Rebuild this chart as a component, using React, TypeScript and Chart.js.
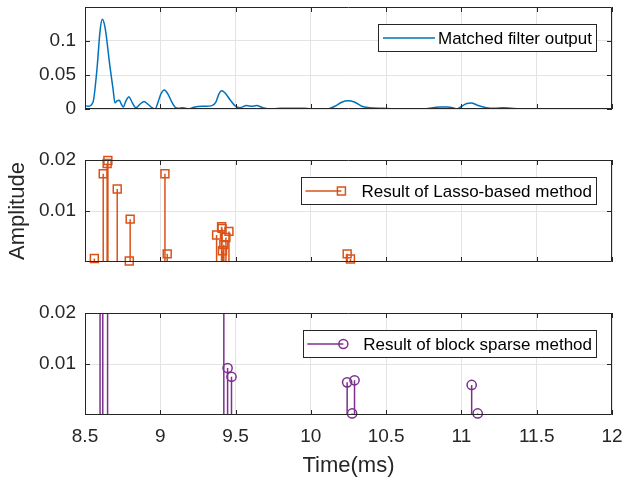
import React, { useEffect, useRef } from 'react';
import { Chart, registerables } from 'chart.js';
Chart.register(...registerables);

// ---------- data ----------
const timeTicks = [8.5, 9, 9.5, 10, 10.5, 11, 11.5, 12];
const topYTicks = [0, 0.05, 0.1];
const stemYTicks = [0.01, 0.02];

const mfTime = [
  8.5, 8.52, 8.553, 8.58, 8.6, 8.615, 8.633, 8.666, 8.686, 8.699, 8.712, 8.728, 8.739, 8.754,
  8.772, 8.792, 8.812, 8.838, 8.865, 8.892, 8.918, 8.945, 8.965, 8.985, 9.004, 9.026, 9.051,
  9.077, 9.097, 9.119, 9.15, 9.185, 9.23, 9.296, 9.343, 9.369, 9.389, 9.407, 9.429, 9.462,
  9.495, 9.529, 9.573, 9.608, 9.639, 9.681, 9.728, 9.794, 9.88, 9.96, 10.026, 10.104, 10.159,
  10.205, 10.247, 10.292, 10.338, 10.391, 10.477, 10.59, 10.743, 10.856, 10.902, 10.942,
  10.966, 11.002, 11.035, 11.066, 11.101, 11.166, 11.22, 11.276, 11.333, 11.431, 11.605, 12,
];
const mfAmp = [
  0.005, 0.004, 0.01, 0.06, 0.115, 0.132, 0.12, 0.062, 0.03, 0.009, 0.012, 0.013, 0.008, 0.003,
  0.012, 0.018, 0.01, 0.002, 0.007, 0.011, 0.007, 0.002, 0.0, 0.01, 0.022, 0.028, 0.022,
  0.01, 0.003, 0.001, 0.002, 0.0, 0.003, 0.004, 0.005, 0.01, 0.022, 0.027, 0.024, 0.014,
  0.005, 0.002, 0.005, 0.004, 0.005, 0.002, 0.0, 0.001, 0.001, 0.001, 0.0, 0.0, 0.004,
  0.01, 0.012, 0.01, 0.004, 0.002, 0.001, 0.0, 0.0, 0.003, 0.003, 0.002,
  0.0, 0.004, 0.008, 0.009, 0.006, 0.002, 0.001, 0.002, 0.001, 0.0, 0.0, 0.0,
];

const lassoTime = [
  8.562, 8.621, 8.647, 8.652, 8.714, 8.794, 8.8, 9.031, 9.046, 9.374, 9.407, 9.41, 9.413,
  9.422, 9.436, 9.456, 10.241, 10.263,
];
const lassoAmp = [
  0.0007, 0.0173, 0.0193, 0.0199, 0.0143, 0.0002, 0.0084, 0.0173, 0.0016, 0.0053, 0.0069,
  0.0066, 0.0022, 0.0034, 0.0048, 0.006, 0.0016, 0.0006,
];

const blockTime = [8.6, 8.618, 8.65, 9.422, 9.447, 9.473, 10.241, 10.274, 10.29, 11.068, 11.108];
const blockAmp = [0.06, 0.08, 0.05, 0.03, 0.0092, 0.0075, 0.0064, 0.0003, 0.0068, 0.0059, 0.0003];

// ---------- styles ----------
const FONT = '"Liberation Sans", Arial, Helvetica, sans-serif';
const AX = '#262626';
const GRID = '#e3e3e3';
const BLUE = '#0072BD';
const ORANGE = '#D95319';
const PURPLE = '#7E2F8E';

function stemData(ts: number[], vs: number[]) {
  const out: any[] = [];
  ts.forEach((t, i) => {
    out.push({ x: t, y: 0, base: true });
    out.push({ x: t, y: vs[i] });
    out.push({ x: t, y: null });
  });
  return out;
}

function zeroPad(s: any) {
  s.paddingTop = 0;
  s.paddingBottom = 0;
  s.paddingLeft = 0;
  s.paddingRight = 0;
}

const boxPlugin = {
  id: 'mlBox',
  afterDatasetsDraw(chart: any) {
    const { ctx, chartArea: a, scales } = chart;
    const x = scales.x;
    const y = scales.y;
    ctx.save();
    ctx.strokeStyle = AX;
    ctx.lineWidth = 1;
    ctx.beginPath();
    ctx.rect(Math.round(a.left) + 0.5, Math.round(a.top) + 0.5, Math.round(a.right - a.left) - 1, Math.round(a.bottom - a.top) - 1);
    ctx.stroke();
    const tl = 5;
    ctx.beginPath();
    x.ticks.forEach((t: any) => {
      const px = Math.round(x.getPixelForValue(t.value)) + 0.5;
      ctx.moveTo(px, a.bottom);
      ctx.lineTo(px, a.bottom - tl);
      ctx.moveTo(px, a.top);
      ctx.lineTo(px, a.top + tl);
    });
    y.ticks.forEach((t: any) => {
      const py = Math.round(y.getPixelForValue(t.value)) + 0.5;
      ctx.moveTo(a.left, py);
      ctx.lineTo(a.left + tl, py);
      ctx.moveTo(a.right, py);
      ctx.lineTo(a.right - tl, py);
    });
    ctx.stroke();
    ctx.restore();
  },
};

const legendPlugin = {
  id: 'mlLegend',
  afterDraw(chart: any, _args: any, opts: any) {
    if (!opts || !opts.text) return;
    const { ctx, chartArea: a } = chart;
    ctx.save();
    ctx.font = `17px ${FONT}`;
    const tw = ctx.measureText(opts.text).width;
    const right = a.right - 16;
    const top = a.top + 17;
    const h = 27;
    const textLeft = right - 4 - tw;
    const left = textLeft - 60;
    ctx.fillStyle = '#fff';
    ctx.fillRect(left, top, right - left, h);
    ctx.strokeStyle = AX;
    ctx.lineWidth = 1;
    ctx.strokeRect(Math.round(left) + 0.5, Math.round(top) + 0.5, Math.round(right - left), h);
    const cy = top + h / 2 + 0.5;
    ctx.strokeStyle = opts.color;
    ctx.lineWidth = 1.5;
    ctx.beginPath();
    if (!opts.marker) {
      ctx.moveTo(left + 5, cy);
      ctx.lineTo(textLeft - 3, cy);
      ctx.stroke();
    } else {
      const mx = textLeft - 20;
      ctx.moveTo(left + 4, cy);
      ctx.lineTo(mx, cy);
      ctx.stroke();
      ctx.beginPath();
      if (opts.marker === 'rect') {
        ctx.rect(mx - 4, cy - 4, 8, 8);
      } else {
        ctx.arc(mx, cy, 4.5, 0, Math.PI * 2);
      }
      ctx.stroke();
    }
    ctx.fillStyle = '#000';
    ctx.textBaseline = 'middle';
    ctx.textAlign = 'left';
    ctx.fillText(opts.text, textLeft, cy + 1);
    ctx.restore();
  },
};

function makeOptions(cfg: any) {
  return {
    responsive: false,
    animation: false,
    events: [],
    layout: { padding: { top: cfg.padTop, right: 11, left: 0, bottom: 0 } },
    plugins: {
      legend: { display: false },
      tooltip: { enabled: false },
      mlLegend: cfg.legend,
    },
    scales: {
      x: {
        type: 'linear',
        min: 8.5,
        max: 12,
        afterBuildTicks: (s: any) => {
          s.ticks = timeTicks.map((v) => ({ value: v }));
        },
        afterFit: (s: any) => {
          s.height = cfg.xHeight;
          zeroPad(s);
        },
        grid: { color: GRID, lineWidth: 1, drawTicks: false },
        border: { display: false },
        ticks: {
          display: cfg.showX,
          padding: 10,
          color: AX,
          font: { family: FONT, size: 19 },
          maxRotation: 0,
          callback: (v: any) => String(v),
        },
        title: {
          display: cfg.showX,
          text: 'Time(ms)',
          color: AX,
          font: { family: FONT, size: 22 },
          padding: { top: 0, bottom: 4 },
        },
      },
      y: {
        type: 'linear',
        min: 0,
        max: cfg.yMax,
        afterBuildTicks: (s: any) => {
          s.ticks = cfg.yTicks.map((v: number) => ({ value: v }));
        },
        afterFit: (s: any) => {
          s.width = 85;
          zeroPad(s);
        },
        grid: { color: GRID, lineWidth: 1, drawTicks: false },
        border: { display: false },
        ticks: {
          padding: 9,
          color: AX,
          font: { family: FONT, size: 19 },
          callback: (v: any) => String(v),
        },
        title: {
          display: !!cfg.yTitle,
          text: 'Amplitude',
          color: AX,
          font: { family: FONT, size: 22 },
          padding: { top: 5, bottom: 0 },
        },
      },
    },
  };
}

export default function App() {
  const r1 = useRef<HTMLCanvasElement>(null);
  const r2 = useRef<HTMLCanvasElement>(null);
  const r3 = useRef<HTMLCanvasElement>(null);

  useEffect(() => {
    const c1 = new Chart(r1.current as any, {
      type: 'scatter',
      data: {
        datasets: [
          {
            data: mfTime.map((t, i) => ({ x: t, y: mfAmp[i] })),
            showLine: true,
            borderColor: BLUE,
            borderWidth: 1.5,
            pointRadius: 0,
            cubicInterpolationMode: 'monotone',
          } as any,
        ],
      },
      options: makeOptions({
        padTop: 7,
        xHeight: 11,
        showX: false,
        yMax: 0.15,
        yTicks: topYTicks,
        legend: { text: 'Matched filter output', color: BLUE, marker: null },
      }) as any,
      plugins: [boxPlugin, legendPlugin],
    });

    const c2 = new Chart(r2.current as any, {
      type: 'scatter',
      data: {
        datasets: [
          {
            data: stemData(lassoTime, lassoAmp),
            showLine: true,
            spanGaps: false,
            borderColor: ORANGE,
            borderWidth: 1.5,
            pointStyle: 'rect',
            pointBorderColor: ORANGE,
            pointBackgroundColor: 'rgba(0,0,0,0)',
            pointBorderWidth: 1.5,
            pointRadius: (ctx: any) => (ctx.raw && ctx.raw.base ? 0 : 5.6),
            clip: { left: 10, right: 10, top: 10, bottom: 10 },
          } as any,
        ],
      },
      options: makeOptions({
        padTop: 10,
        xHeight: 8,
        showX: false,
        yMax: 0.02,
        yTicks: stemYTicks,
        yTitle: true,
        legend: { text: 'Result of Lasso-based method', color: ORANGE, marker: 'rect' },
      }) as any,
      plugins: [boxPlugin, legendPlugin],
    });

    const c3 = new Chart(r3.current as any, {
      type: 'scatter',
      data: {
        datasets: [
          {
            data: stemData(blockTime, blockAmp),
            showLine: true,
            spanGaps: false,
            borderColor: PURPLE,
            borderWidth: 1.5,
            pointStyle: 'circle',
            pointBorderColor: PURPLE,
            pointBackgroundColor: 'rgba(0,0,0,0)',
            pointBorderWidth: 1.5,
            pointRadius: (ctx: any) => (ctx.raw && ctx.raw.base ? 0 : 4.6),
            clip: { left: 10, right: 10, top: 0, bottom: 10 },
          } as any,
        ],
      },
      options: makeOptions({
        padTop: 13,
        xHeight: 68,
        showX: true,
        yMax: 0.02,
        yTicks: stemYTicks,
        legend: { text: 'Result of block sparse method', color: PURPLE, marker: 'circle' },
      }) as any,
      plugins: [boxPlugin, legendPlugin],
    });

    return () => {
      c1.destroy();
      c2.destroy();
      c3.destroy();
    };
  }, []);

  return (
    <div style={{ position: 'fixed', left: 0, top: 0, width: 623, height: 483, background: '#fff' }}>
      <canvas ref={r1} width={623} height={120} style={{ position: 'absolute', left: 0, top: 0 }} />
      <canvas ref={r2} width={623} height={120} style={{ position: 'absolute', left: 0, top: 150 }} />
      <canvas ref={r3} width={623} height={183} style={{ position: 'absolute', left: 0, top: 300 }} />
    </div>
  );
}
